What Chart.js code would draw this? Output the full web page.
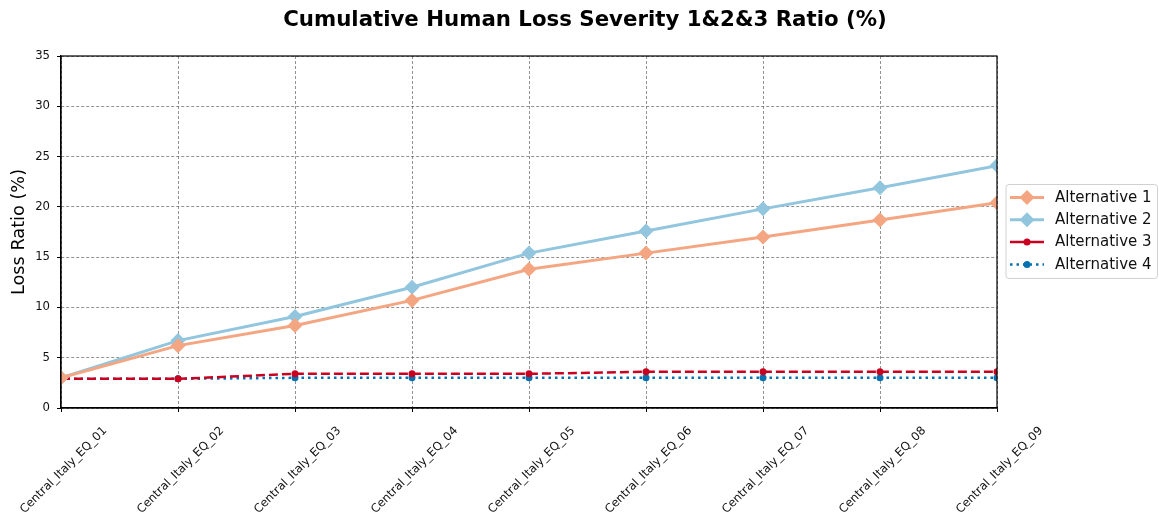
<!DOCTYPE html>
<html><head><meta charset="utf-8">
<script src="https://cdn.jsdelivr.net/npm/chart.js@4/dist/chart.umd.min.js"></script>
<style>html,body{margin:0;padding:0;background:#fff}</style>
</head><body>
<canvas id="c" width="1159" height="516"></canvas>
<script>
// Scenario names along the x axis
const categories = [
  'Central_Italy_EQ_01', 'Central_Italy_EQ_02', 'Central_Italy_EQ_03',
  'Central_Italy_EQ_04', 'Central_Italy_EQ_05', 'Central_Italy_EQ_06',
  'Central_Italy_EQ_07', 'Central_Italy_EQ_08', 'Central_Italy_EQ_09'
];
// Cumulative loss ratio (%) per alternative
const alternative1 = [3.0, 6.2, 8.2, 10.7, 13.8, 15.4, 17.0, 18.7, 20.4];
const alternative2 = [3.0, 6.7, 9.1, 12.0, 15.4, 17.6, 19.8, 21.9, 24.1];
const alternative3 = [2.9, 2.9, 3.4, 3.4, 3.4, 3.6, 3.6, 3.6, 3.6];
const alternative4 = [2.9, 2.9, 3.0, 3.0, 3.0, 3.0, 3.0, 3.0, 3.0];
const seriesNames = ['Alternative 1', 'Alternative 2', 'Alternative 3', 'Alternative 4'];
const yTicks = [0, 5, 10, 15, 20, 25, 30, 35];
const chartTitle = 'Cumulative Human Loss Severity 1&2&3 Ratio (%)';

const FONT = 'DejaVu Sans';

function series(name, data, color, opts) {
  return Object.assign({
    label: name,
    data: data,
    borderColor: color,
    backgroundColor: color,
    pointBackgroundColor: color,
    pointBorderColor: color,
    pointBorderWidth: 0,
    pointHoverRadius: 0,
    tension: 0,
    fill: false,
    clip: 0
  }, opts);
}

const datasets = [
  series(seriesNames[0], alternative1, '#f4a582', {borderWidth: 3, pointStyle: 'rectRot', pointRadius: 7.5}),
  series(seriesNames[1], alternative2, '#92c5de', {borderWidth: 3, pointStyle: 'rectRot', pointRadius: 7.5}),
  series(seriesNames[2], alternative3, '#ca0020', {borderWidth: 2.5, borderDash: [9, 4], pointStyle: 'circle', pointRadius: 3.5}),
  series(seriesNames[3], alternative4, '#0571b0', {borderWidth: 2.5, borderDash: [2.5, 4], pointStyle: 'circle', pointRadius: 3.5})
];

// Title across the whole canvas, frame around the plot area, boxed legend on the right
const decorations = {
  id: 'decorations',
  afterDatasetsDraw(chart) {
    const a = chart.chartArea, ctx = chart.ctx;
    ctx.save();
    ctx.strokeStyle = '#000';
    ctx.lineWidth = 1.2;
    ctx.setLineDash([]);
    ctx.strokeRect(a.left, a.top, a.right - a.left, a.bottom - a.top);
    ctx.restore();
  },
  afterDraw(chart) {
    const ctx = chart.ctx;
    ctx.save();
    ctx.fillStyle = '#000';
    ctx.font = 'bold 21.3px "' + FONT + '"';
    ctx.textAlign = 'center';
    ctx.textBaseline = 'middle';
    ctx.fillText(chartTitle, 585, 20);

    const bx = 1006, by = 184.5, bw = 151.5, bh = 94, r = 3;
    ctx.fillStyle = 'rgba(255,255,255,0.85)';
    ctx.strokeStyle = '#d0d0d0';
    ctx.lineWidth = 1;
    ctx.beginPath();
    ctx.moveTo(bx + r, by);
    ctx.arcTo(bx + bw, by, bx + bw, by + bh, r);
    ctx.arcTo(bx + bw, by + bh, bx, by + bh, r);
    ctx.arcTo(bx, by + bh, bx, by, r);
    ctx.arcTo(bx, by, bx + bw, by, r);
    ctx.closePath();
    ctx.fill();
    ctx.stroke();
    ctx.font = '15px "' + FONT + '"';
    ctx.textBaseline = 'middle';
    ctx.textAlign = 'left';
    chart.data.datasets.forEach((ds, i) => {
      const y = 197.5 + i * 22.3;
      const x0 = 1010, x1 = 1044, xm = (x0 + x1) / 2;
      ctx.strokeStyle = ds.borderColor;
      ctx.lineWidth = ds.borderWidth;
      ctx.setLineDash(i === 3 ? ds.borderDash : []);
      ctx.beginPath();
      ctx.moveTo(x0, y);
      ctx.lineTo(x1, y);
      ctx.stroke();
      ctx.setLineDash([]);
      ctx.fillStyle = ds.borderColor;
      ctx.beginPath();
      if (ds.pointStyle === 'rectRot') {
        const s = ds.pointRadius;
        ctx.moveTo(xm, y - s);
        ctx.lineTo(xm + s, y);
        ctx.lineTo(xm, y + s);
        ctx.lineTo(xm - s, y);
        ctx.closePath();
      } else {
        ctx.arc(xm, y, ds.pointRadius, 0, Math.PI * 2);
      }
      ctx.fill();
      ctx.fillStyle = '#111';
      ctx.fillText(ds.label, 1055, y + 0.5);
    });
    ctx.restore();
  }
};

const gridStyle = {
  display: true,
  color: 'rgba(85,85,85,0.8)',
  lineWidth: 0.8,
  drawTicks: true,
  tickLength: 4,
  tickColor: '#000',
  tickWidth: 1,
  tickBorderDash: []
};

new Chart(document.getElementById('c'), {
  type: 'line',
  data: { labels: categories, datasets: datasets },
  plugins: [decorations],
  options: {
    responsive: false,
    animation: false,
    devicePixelRatio: 1,
    layout: { padding: { left: 0, right: 162, top: 56, bottom: 0 } },
    plugins: {
      legend: { display: false },
      tooltip: { enabled: false },
      title: { display: false }
    },
    scales: {
      x: {
        type: 'category',
        offset: false,
        afterFit(s) { s.height = 108; s.paddingLeft = 0; s.paddingRight = 0; },
        grid: gridStyle,
        border: { display: true, color: '#000', width: 1.2, dash: [3, 2] },
        ticks: {
          autoSkip: false,
          maxRotation: 45,
          minRotation: 45,
          labelOffset: 44,
          padding: 12,
          color: '#111',
          font: { family: FONT, size: 11.7 }
        }
      },
      y: {
        min: 0,
        max: 35,
        afterFit(s) { s.width = 61; },
        afterBuildTicks(s) { s.ticks = yTicks.map(v => ({ value: v })); },
        grid: gridStyle,
        border: { display: true, color: '#000', width: 1.2, dash: [3, 2] },
        ticks: {
          padding: 7,
          color: '#111',
          font: { family: FONT, size: 11.7 }
        },
        title: {
          display: true,
          text: 'Loss Ratio (%)',
          color: '#000',
          font: { family: FONT, size: 17.7 },
          padding: { top: 9, bottom: 0 }
        }
      }
    }
  }
});
</script>
</body></html>
